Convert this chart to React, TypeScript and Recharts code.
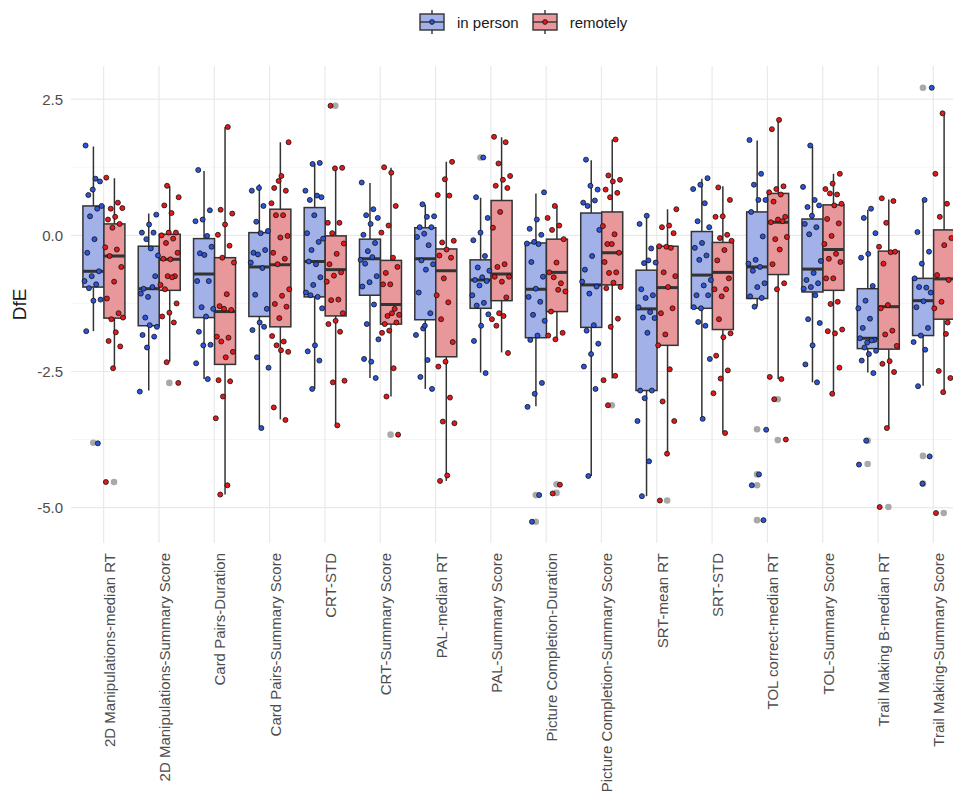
import React from "react";
import {
  ComposedChart,
  Bar,
  Scatter,
  XAxis,
  YAxis,
  CartesianGrid,
  Legend,
} from "recharts";

const categories = [
  "2D Manipulations-median RT",
  "2D Manipulations-Summary Score",
  "Card Pairs-Duration",
  "Card Pairs-Summary Score",
  "CRT-STD",
  "CRT-Summary Score",
  "PAL-median RT",
  "PAL-Summary Score",
  "Picture Completion-Duration",
  "Picture Completion-Summary Score",
  "SRT-mean RT",
  "SRT-STD",
  "TOL correct-median RT",
  "TOL-Summary Score",
  "Trail Making B-median RT",
  "Trail Making-Summary Score",
];

// [lower whisker, q1, median, q3, upper whisker]
const inPersonBoxes = [
  [-1.76, -0.95, -0.66, 0.54, 1.63],
  [-2.85, -1.66, -0.98, -0.2, 0.4],
  [-2.64, -1.51, -0.71, -0.06, 1.18],
  [-3.52, -1.49, -0.58, 0.05, 0.94],
  [-2.82, -1.13, -0.48, 0.51, 1.31],
  [-2.62, -1.1, -0.43, -0.07, 0.96],
  [-2.82, -1.55, -0.43, 0.14, 0.56],
  [-2.52, -1.34, -0.82, -0.45, 0.69],
  [-3.14, -1.88, -0.99, -0.14, 0.77],
  [-4.42, -1.69, -0.91, 0.41, 1.38],
  [-4.79, -2.85, -1.35, -0.64, 0.34],
  [-3.37, -1.34, -0.73, 0.07, 1.04],
  [-1.3, -1.16, -0.58, 0.43, 1.74],
  [-2.7, -1.04, -0.62, 0.3, 1.63],
  [-2.52, -2.08, -1.89, -0.98, 0.47],
  [-2.76, -1.84, -1.2, -0.79, 0.64],
];

const remoteBoxes = [
  [-2.44, -1.52, -0.38, 0.21, 1.05],
  [-2.32, -1.01, -0.44, 0.02, 0.9],
  [-4.76, -2.37, -1.4, -0.41, 1.99],
  [-3.38, -1.68, -0.54, 0.48, 1.71],
  [-3.51, -1.48, -0.63, -0.01, 1.23],
  [-2.96, -1.63, -1.27, -0.46, 1.24],
  [-4.51, -2.23, -0.65, -0.25, 1.35],
  [-2.15, -1.2, -0.71, 0.64, 1.8],
  [-1.89, -1.4, -0.68, -0.07, 0.54],
  [-2.63, -0.91, -0.32, 0.43, 1.76],
  [-4.01, -2.02, -0.96, -0.2, 0.48],
  [-3.62, -1.73, -0.68, -0.13, 0.9],
  [-2.64, -0.72, 0.24, 0.77, 2.12],
  [-2.91, -1.01, -0.26, 0.56, 1.13],
  [-3.54, -2.09, -1.31, -0.29, 0.66],
  [-2.88, -1.54, -0.8, 0.1, 2.24],
];

const inPersonOutliers = [
  [-3.81], [], [], [], [], [], [], [1.43],
  [-4.77, -5.26], [], [], [], [-3.56, -4.39, -4.59, -5.23], [], [-3.77, -4.2], [2.71, -4.05, -4.56],
];

const remoteOutliers = [
  [-4.53], [-2.71], [], [], [2.38], [-3.66], [], [],
  [-4.57, -4.73], [-3.12], [-4.87], [], [-3.01, -3.76], [], [-4.99], [-5.1],
];

const inPersonPoints = [
  [1.04, 0.74, 0.99, 0.84, 1.65, 0.49, 0.35, 0.54, -0.07, -0.32, -0.66, -0.75, -0.84, -0.9, -0.97, -1.18, -1.2, -1.76, -3.82],
  [0.38, 0.2, 0.05, 0.05, -0.07, -0.37, -0.24, -0.98, -0.75, -1.13, -1.07, -0.95, -1.51, -1.68, -1.65, -1.83, -1.86, -2.06, -2.87],
  [1.2, 0.46, 0.29, 0.26, -0.01, -0.33, -0.21, -0.36, -0.84, -0.84, -1.32, -1.35, -1.49, -1.77, -2.01, -2.02, -2.35, -2.64],
  [0.87, 0.82, 0.54, 0.25, 0.08, 0.04, -0.32, -0.27, -0.35, -0.5, -0.6, -1.09, -1.35, -1.6, -1.74, -1.68, -2.24, -2.43, -3.54],
  [1.33, 1.31, 0.82, 0.73, 0.65, 0.7, 0.37, 0.04, -0.12, -0.27, -0.06, -0.53, -0.48, -0.77, -0.91, -1.05, -1.13, -1.1, -1.34, -2.02, -2.13, -2.3, -2.82],
  [0.97, 0.48, 0.37, 0.32, 0.21, 0.01, -0.14, -0.29, -0.45, -0.4, -0.52, -0.75, -0.86, -0.94, -1.27, -1.63, -1.91, -2.32, -2.27, -2.62],
  [0.57, 0.35, 0.34, 0.15, 0.15, 0.03, -0.03, -0.18, -0.46, -0.53, -0.63, -1.05, -1.43, -1.71, -1.83, -2.29, -2.6, -2.82, -1.66],
  [1.43, 0.7, 0.32, 0.05, -0.09, -0.38, -0.59, -0.65, -0.77, -0.82, -0.84, -0.92, -1.1, -1.24, -1.29, -1.45, -1.66, -1.94, -2.53],
  [0.79, 0.29, 0.12, 0.01, -0.12, -0.15, -0.16, -0.49, -0.76, -0.98, -1.13, -1.22, -1.46, -1.57, -1.84, -1.92, -2.71, -2.91, -3.15, -4.77, -5.26],
  [1.39, 0.84, 0.91, 0.6, 0.64, 0.54, 0.1, -0.38, -0.63, -0.94, -1.07, -0.85, -1.65, -1.75, -1.99, -2.18, -2.41, -2.82, -4.42],
  [0.36, 0.21, -0.24, -0.51, -0.5, -0.46, -0.99, -1.1, -1.15, -1.32, -1.41, -1.51, -1.52, -1.79, -2.85, -2.85, -2.99, -3.41, -4.15, -4.79],
  [1.05, 0.93, 0.85, 0.59, 0.26, 0.15, -0.14, -0.23, -0.37, -0.45, -0.82, -0.92, -1.1, -1.1, -1.34, -1.32, -1.66, -1.59, -2.27, -3.37],
  [1.75, 1.13, 0.93, 0.65, 0.65, 0.43, -0.02, -0.45, -0.52, -0.58, -0.65, -0.88, -0.95, -1.12, -1.15, -1.31, -3.57, -4.39, -4.59, -5.23],
  [1.65, 0.89, 0.65, 0.52, 0.55, 0.36, 0.21, 0.15, 0.02, -0.47, -0.69, -0.82, -0.88, -0.95, -0.98, -1.1, -1.54, -1.61, -2.02, -2.37, -2.7],
  [0.49, 0.32, 0.04, -0.34, -0.41, -0.93, -1.2, -1.34, -1.53, -1.7, -1.92, -1.97, -1.89, -1.93, -2.06, -2.12, -2.18, -2.3, -2.53, -3.77, -4.21],
  [2.71, 0.65, 0.06, -0.3, -0.52, -0.79, -0.96, -0.95, -1.05, -1.21, -1.32, -1.7, -1.84, -1.96, -2.1, -2.77, -4.06, -4.56],
];

const remotePoints = [
  [1.06, 0.6, 0.49, 0.5, 0.34, 0.29, 0.21, 0.14, -0.22, -0.26, -0.38, -0.58, -0.85, -1.16, -1.43, -1.54, -1.51, -1.78, -1.94, -2.04, -2.44, -4.53],
  [0.91, 0.7, 0.41, 0.55, 0.05, 0.05, 0.0, -0.06, -0.14, -0.32, -0.44, -0.43, -0.75, -0.75, -0.91, -0.77, -0.99, -1.25, -1.42, -1.49, -1.6, -2.33, -2.71],
  [1.99, 0.47, 0.4, 0.2, 0.01, -0.19, -0.41, -0.5, -1.08, -1.3, -1.37, -1.35, -1.86, -1.88, -1.95, -2.14, -2.24, -2.66, -2.68, -2.96, -3.36, -4.59, -4.76],
  [1.71, 1.09, 0.87, 0.82, 1.0, 0.59, 0.37, 0.37, -0.01, -0.04, -0.32, -0.43, -0.53, -0.99, -1.11, -1.26, -1.31, -1.52, -1.85, -1.95, -2.02, -2.14, -2.11, -3.16, -3.39],
  [2.38, 1.24, 1.23, 0.23, 0.23, 0.04, -0.15, -0.34, -0.53, -0.68, -0.74, -0.85, -1.18, -1.19, -1.43, -1.57, -1.63, -1.77, -2.7, -2.67, -3.49],
  [1.15, 1.25, 0.54, 0.18, 0.05, -0.41, -0.69, -0.58, -0.9, -0.9, -1.35, -1.48, -1.46, -1.43, -1.63, -1.6, -1.75, -1.79, -2.44, -2.96, -3.66],
  [1.35, 1.03, 0.74, 0.73, -0.13, -0.1, -0.26, -0.37, -0.41, -0.79, -1.1, -1.23, -1.54, -1.96, -2.32, -2.41, -2.98, -3.42, -3.45, -4.41, -4.51],
  [1.81, 1.71, 1.32, 1.09, 1.02, 0.91, 0.87, 0.43, 0.14, -0.53, -0.58, -0.76, -0.85, -0.76, -1.14, -1.43, -1.54, -1.48, -1.66, -2.16],
  [0.54, 0.32, 0.18, 0.1, -0.07, -0.5, -0.68, -0.88, -0.77, -1.03, -1.0, -1.4, -1.79, -1.91, -1.84, -4.58, -4.74],
  [1.76, 1.1, 1.02, 0.99, 0.84, 0.78, 0.7, 0.17, 0.02, -0.16, -0.32, -0.16, -0.49, -0.68, -0.69, -0.95, -0.87, -0.97, -1.53, -1.68, -2.66, -2.58, -3.12],
  [0.48, 0.18, 0.15, 0.04, -0.21, -0.2, -0.23, -0.68, -0.75, -0.95, -1.43, -1.34, -1.82, -2.02, -2.46, -3.05, -3.41, -4.01, -4.87],
  [0.88, 0.65, 0.35, 0.34, 0.01, -0.05, -0.1, -0.27, -0.46, -0.79, -1.12, -0.99, -0.99, -1.54, -1.8, -1.87, -2.21, -2.48, -2.63, -2.9, -3.63],
  [2.12, 1.95, 0.9, 0.85, 0.79, 0.75, 0.62, 0.34, 0.29, 0.24, 0.26, -0.07, -0.03, -0.26, -0.53, -0.88, -0.99, -2.6, -2.64, -3.01, -3.75],
  [1.13, 0.95, 0.85, 0.75, 0.77, 0.58, 0.55, 0.3, 0.22, -0.01, -0.16, -0.34, -0.43, -0.49, -0.79, -0.79, -1.22, -1.26, -1.73, -1.8, -1.76, -2.43, -2.91],
  [0.68, 0.63, 0.23, -0.21, -0.31, -0.52, -0.3, -1.28, -1.34, -1.75, -1.82, -2.03, -2.31, -2.36, -2.51, -3.54, -4.99],
  [2.24, 1.13, 0.58, 0.34, -0.05, -0.18, -0.73, -0.82, -1.22, -1.34, -1.81, -2.49, -2.62, -2.88, -5.1, -1.6],
];

const yTicks = [-5, -2.5, 0, 2.5];
const yMinorTicks = [-3.75, -1.25, 1.25];

const BLUE_FILL = "#a3b1e9";
const RED_FILL = "#e8979b";
const BLUE_DOT = "#2c55d8";
const RED_DOT = "#e3191c";
const LINE = "#333333";
const FONT = "'Liberation Sans', Arial, sans-serif";

const DODGE = 0.1875;
const JITTER = 0.34;

// spread points sideways within their box, the way position_jitterdodge does
const jitter = (i: number, j: number, g: number) => {
  const f = ((j + 1) * 0.618034 + i * 0.29 + g * 0.47) % 1;
  return (f - 0.5) * JITTER;
};

const rows = categories.map((cat, i) => ({
  cat,
  inPerson: [inPersonBoxes[i][1], inPersonBoxes[i][3]],
  remotely: [remoteBoxes[i][1], remoteBoxes[i][3]],
  ipStats: inPersonBoxes[i],
  rmStats: remoteBoxes[i],
}));

const toPoints = (lists: number[][], side: number, g: number) =>
  lists.flatMap((vals, i) => vals.map((y, j) => ({ x: i + side * DODGE + jitter(i, j, g), y })));

const toOutliers = (lists: number[][], side: number) =>
  lists.flatMap((vals, i) => vals.map((y) => ({ x: i + side * DODGE, y })));

const ipPoints = toPoints(inPersonPoints, -1, 0);
const rmPoints = toPoints(remotePoints, 1, 1);
const ipOut = toOutliers(inPersonOutliers, -1);
const rmOut = toOutliers(remoteOutliers, 1);

const makeBox = (statsKey: string, fill: string) => (props: any) => {
  const { x, y, width, height, payload } = props;
  const [lo, q1, med, q3, hi] = payload[statsKey];
  const ppu = height / (q3 - q1);
  const py = (v: number) => y + (q3 - v) * ppu;
  const cx = x + width / 2;
  return (
    <g>
      <line x1={cx} x2={cx} y1={py(hi)} y2={y} stroke={LINE} strokeWidth={1.5} />
      <line x1={cx} x2={cx} y1={y + height} y2={py(lo)} stroke={LINE} strokeWidth={1.5} />
      <rect x={x} y={y} width={width} height={height} fill={fill} stroke={LINE} strokeWidth={1.5} />
      <line x1={x} x2={x + width} y1={py(med)} y2={py(med)} stroke={LINE} strokeWidth={3} />
    </g>
  );
};

const dot = (fill: string) => (p: any) => (
  <circle cx={p.cx} cy={p.cy} r={2.5} fill={fill} stroke="#111" strokeWidth={0.8} />
);

const outlierDot = (p: any) => <circle cx={p.cx} cy={p.cy} r={3.3} fill="#9a9a9a" fillOpacity={0.85} />;

const XTick = ({ x, y, payload }: any) => (
  <text
    x={x}
    y={y + 2}
    dy={11}
    transform={`rotate(-90, ${x}, ${y + 2})`}
    textAnchor="end"
    fontSize={15}
    fill="#4d4d4d"
    fontFamily={FONT}
  >
    {payload.value}
  </text>
);

const LegendIcon = ({ fill, dotFill }: { fill: string; dotFill: string }) => (
  <svg width={26} height={26}>
    <line x1={13} x2={13} y1={1} y2={25} stroke={LINE} strokeWidth={1.4} />
    <rect x={1} y={5} width={24} height={16} fill={fill} stroke={LINE} strokeWidth={1.4} />
    <line x1={1} x2={25} y1={13} y2={13} stroke={LINE} strokeWidth={1.4} />
    <circle cx={13} cy={13} r={2.4} fill={dotFill} stroke="#111" strokeWidth={0.8} />
  </svg>
);

const LegendContent = () => (
  <div style={{ height: 66, fontFamily: FONT, fontSize: 15, color: "#1a1a1a" }}>
    <div style={{ display: "flex", alignItems: "center", height: 44, paddingLeft: 419 }}>
      <LegendIcon fill={BLUE_FILL} dotFill={BLUE_DOT} />
      <span style={{ marginLeft: 12 }}>in person</span>
      <span style={{ width: 13 }} />
      <LegendIcon fill={RED_FILL} dotFill={RED_DOT} />
      <span style={{ marginLeft: 12 }}>remotely</span>
    </div>
  </div>
);

const YLabel = ({ viewBox }: any) => {
  const cy = viewBox.y + viewBox.height / 2;
  return (
    <text
      x={26}
      y={cy}
      transform={`rotate(-90, 26, ${cy})`}
      textAnchor="middle"
      fontSize={19}
      fill="#1a1a1a"
      fontFamily={FONT}
    >
      DfE
    </text>
  );
};

const App = () => (
  <div style={{ position: "absolute", left: 0, top: 0, width: 953, height: 800, overflow: "hidden", background: "#fff" }}>
    <ComposedChart width={975} height={800} data={rows} margin={{ top: 0, right: 9, bottom: 0, left: 0 }} barCategoryGap="12.5%" barGap={0}>
      <CartesianGrid xAxisId="cat" yAxisId="minor" vertical={false} syncWithTicks stroke="#efefef" strokeWidth={0.6} />
      <CartesianGrid xAxisId="cat" yAxisId="main" syncWithTicks stroke="#e9e9e9" strokeWidth={1.2} />
      <XAxis
        xAxisId="cat"
        dataKey="cat"
        type="category"
        interval={0}
        height={257}
        padding={{ left: 5, right: 5 }}
        axisLine={false}
        tickLine={false}
        tick={<XTick />}
      />
      <XAxis xAxisId="num" dataKey="x" type="number" domain={[-0.5, 15.5]} allowDataOverflow hide padding={{ left: 5, right: 5 }} />
      <YAxis
        yAxisId="main"
        dataKey="y"
        type="number"
        domain={[-5.65, 3.11]}
        allowDataOverflow
        ticks={yTicks}
        interval={0}
        width={71}
        axisLine={false}
        tickLine={false}
        tickFormatter={(v: number) => v.toFixed(1)}
        tick={{ fontSize: 15, fill: "#4d4d4d", fontFamily: FONT }}
        label={<YLabel />}
      />
      <YAxis yAxisId="minor" type="number" domain={[-5.65, 3.11]} allowDataOverflow ticks={yMinorTicks} interval={0} hide />
      <Legend verticalAlign="top" content={<LegendContent />} />
      <Bar xAxisId="cat" yAxisId="main" dataKey="inPerson" name="in person" shape={makeBox("ipStats", BLUE_FILL)} isAnimationActive={false} />
      <Bar xAxisId="cat" yAxisId="main" dataKey="remotely" name="remotely" shape={makeBox("rmStats", RED_FILL)} isAnimationActive={false} />
      <Scatter xAxisId="num" yAxisId="main" data={ipOut} shape={outlierDot} isAnimationActive={false} legendType="none" />
      <Scatter xAxisId="num" yAxisId="main" data={rmOut} shape={outlierDot} isAnimationActive={false} legendType="none" />
      <Scatter xAxisId="num" yAxisId="main" data={ipPoints} shape={dot(BLUE_DOT)} isAnimationActive={false} legendType="none" />
      <Scatter xAxisId="num" yAxisId="main" data={rmPoints} shape={dot(RED_DOT)} isAnimationActive={false} legendType="none" />
    </ComposedChart>
  </div>
);

export default App;
